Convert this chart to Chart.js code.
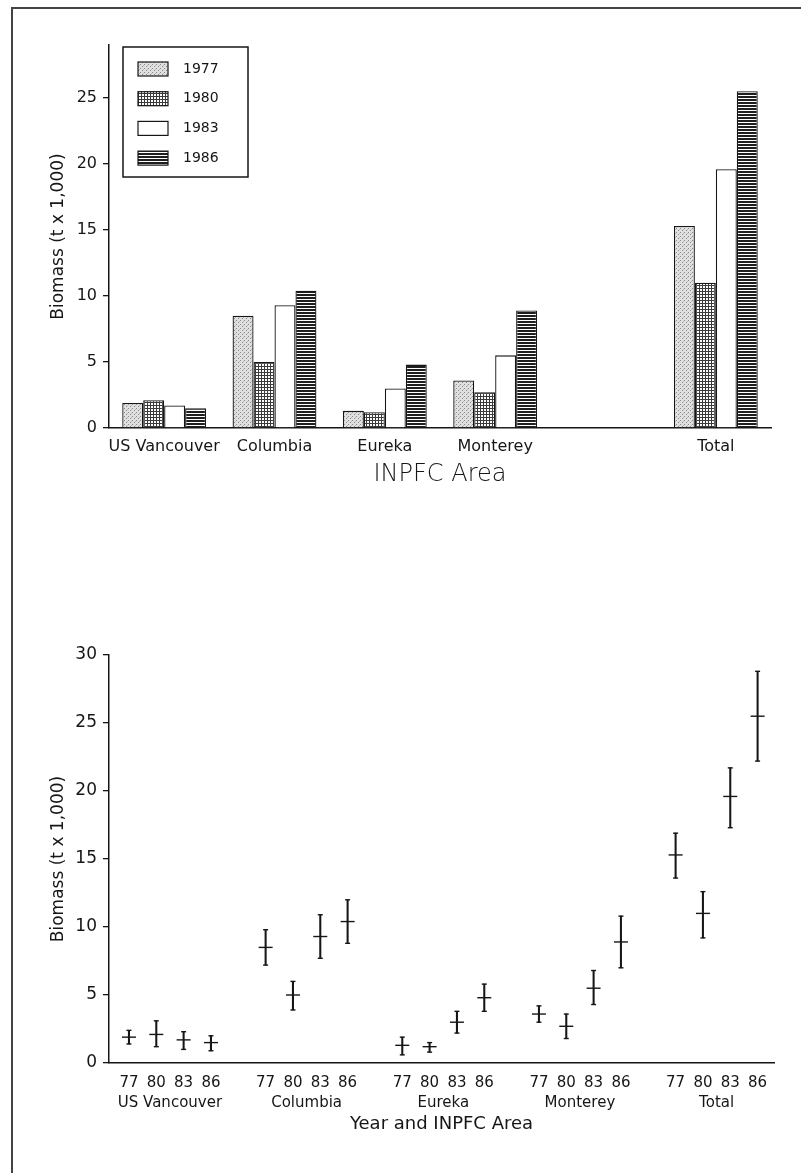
<!DOCTYPE html>
<html>
<head>
<meta charset="utf-8">
<script src="https://cdn.jsdelivr.net/npm/chart.js@4.4.0/dist/chart.umd.min.js"></script>
<style>
  html, body { margin: 0; padding: 0; background: #fff; }
  body { width: 801px; height: 1173px; position: relative; overflow: hidden; }
  #frame { position: absolute; left: 11px; top: 7px; width: 790px; height: 1166px;
           border-left: 2px solid #444; border-top: 2px solid #444; box-sizing: border-box; }
  .box { position: absolute; left: 0; width: 801px; }
  #top { top: 0; height: 493px; }
  #bottom { top: 600px; height: 539px; }
</style>
</head>
<body>
<div id="frame"></div>
<div class="box" id="top"><canvas id="barChart"></canvas></div>
<div class="box" id="bottom"><canvas id="errChart"></canvas></div>
<script>
(function() {
    'use strict';

    // areas and years
    const areas = ['US Vancouver', 'Columbia', 'Eureka', 'Monterey', 'Total'];
    const years = ['1977', '1980', '1983', '1986'];
    const yearTicks = ['77', '80', '83', '86'];

    // biomass (t x 1,000), one value per area
    const b1977 = [1.9, 8.5, 1.3, 3.6, 15.3];
    const b1980 = [2.1, 5.0, 1.2, 2.7, 11.0];
    const b1983 = [1.7, 9.3, 3.0, 5.5, 19.6];
    const b1986 = [1.5, 10.4, 4.8, 8.9, 25.5];

    // lower / upper ends of the error bars
    const lo1977 = [1.4, 7.2, 0.6, 3.0, 13.6];
    const hi1977 = [2.4, 9.8, 1.9, 4.2, 16.9];
    const lo1980 = [1.2, 3.9, 0.8, 1.8, 9.2];
    const hi1980 = [3.1, 6.0, 1.5, 3.6, 12.6];
    const lo1983 = [1.0, 7.7, 2.2, 4.3, 17.3];
    const hi1983 = [2.3, 10.9, 3.8, 6.8, 21.7];
    const lo1986 = [0.9, 8.8, 3.8, 7.0, 22.2];
    const hi1986 = [2.0, 12.0, 5.8, 10.8, 28.8];

    const FONT = '"DejaVu Sans", "Liberation Sans", sans-serif';
    const INK = '#161616';

    function makePattern(w, h, paint) {
        const c = document.createElement('canvas');
        c.width = w;
        c.height = h;
        const g = c.getContext('2d');
        paint(g);
        return g.createPattern(c, 'repeat');
    }

    // fills like the printed hatching
    const fills = [
        makePattern(4, 4, function(g) {
            g.fillStyle = '#e0e0e0'; g.fillRect(0, 0, 4, 4);
            g.fillStyle = '#8a8a8a'; g.fillRect(0, 0, 1, 1); g.fillRect(2, 2, 1, 1);
            g.fillStyle = '#bcbcbc'; g.fillRect(3, 1, 1, 1);
        }),
        makePattern(3, 3, function(g) {
            g.fillStyle = '#3a3a3a'; g.fillRect(0, 0, 3, 3);
            g.fillStyle = '#ffffff'; g.fillRect(1, 1, 2, 2);
        }),
        '#ffffff',
        makePattern(3, 3, function(g) {
            g.fillStyle = '#ffffff'; g.fillRect(0, 0, 3, 3);
            g.fillStyle = '#1e1e1e'; g.fillRect(0, 0, 3, 2);
        })
    ];

    // legend drawn as a framed box inside the plot
    const boxLegend = {
        id: 'boxLegend',
        afterDraw: function(chart) {
            const ctx = chart.ctx;
            const x0 = chart.chartArea.left + 14;
            const y0 = chart.chartArea.top + 2;
            ctx.save();
            ctx.fillStyle = '#fff';
            ctx.fillRect(x0, y0, 125, 130);
            ctx.lineWidth = 1.5;
            ctx.strokeStyle = INK;
            ctx.strokeRect(x0, y0, 125, 130);
            chart.data.datasets.forEach(function(ds, i) {
                const y = y0 + 15 + i * 29.7;
                ctx.fillStyle = ds.backgroundColor;
                ctx.fillRect(x0 + 15, y, 30, 14);
                ctx.lineWidth = 1.2;
                ctx.strokeRect(x0 + 15, y, 30, 14);
                ctx.fillStyle = INK;
                ctx.font = '14px ' + FONT;
                ctx.textBaseline = 'middle';
                ctx.textAlign = 'left';
                ctx.fillText(ds.label, x0 + 60, y + 7);
            });
            ctx.restore();
        }
    };

    // top chart has an empty slot between Monterey and Total
    const barLabels = ['US Vancouver', 'Columbia', 'Eureka', 'Monterey', '', 'Total'];
    const withGap = function(arr) { return arr.slice(0, 4).concat([null], arr.slice(4)); };
    const barSeries = [b1977, b1980, b1983, b1986];

    new Chart(document.getElementById('barChart'), {
        type: 'bar',
        data: {
            labels: barLabels,
            datasets: years.map(function(yr, i) {
                return {
                    label: yr,
                    data: withGap(barSeries[i]),
                    backgroundColor: fills[i],
                    borderColor: INK,
                    borderWidth: 1.3
                };
            })
        },
        options: {
            animation: false,
            responsive: true,
            maintainAspectRatio: false,
            layout: { padding: { left: 44, right: 30, top: 45, bottom: 0 } },
            datasets: { bar: { categoryPercentage: 0.76, barPercentage: 1.0 } },
            plugins: { legend: { display: false }, tooltip: { enabled: false } },
            scales: {
                x: {
                    grid: { display: true, drawOnChartArea: false, drawTicks: false },
                    border: { color: INK, width: 1.5 },
                    ticks: { color: INK, font: { family: FONT, size: 16 }, padding: 9, maxRotation: 0, autoSkip: false },
                    title: { display: true, text: 'INPFC Area', color: INK, font: { family: FONT, size: 24, weight: '300' } },
                    afterFit: function(s) { s.height = 65; }
                },
                y: {
                    min: 0,
                    max: 29,
                    ticks: { stepSize: 5, includeBounds: false, color: INK, font: { family: FONT, size: 16 }, padding: 6 },
                    grid: { drawOnChartArea: false, drawTicks: true, tickLength: 6, color: INK, lineWidth: 1.3 },
                    border: { color: INK, width: 1.5 },
                    title: { display: true, text: 'Biomass (t x 1,000)', color: INK, font: { family: FONT, size: 17 } },
                    afterFit: function(s) { s.width = 65; }
                }
            }
        },
        plugins: [boxLegend]
    });

    // bottom chart: one x slot per year, a blank slot between areas
    const lows = [lo1977, lo1980, lo1983, lo1986];
    const highs = [hi1977, hi1980, hi1983, hi1986];
    const positions = [];
    const means = [];
    const ranges = [];
    const lowCaps = [];
    const highCaps = [];
    areas.forEach(function(a, g) {
        barSeries.forEach(function(series, i) {
            const x = g * 5 + i;
            positions.push(x);
            means.push({ x: x, y: series[g] });
            ranges.push({ x: x, y: [lows[i][g], highs[i][g]] });
            lowCaps.push({ x: x, y: lows[i][g] });
            highCaps.push({ x: x, y: highs[i][g] });
        });
    });
    const groupCenters = areas.map(function(a, g) { return g * 5 + 1.5; });

    const pointSet = function(data, r) {
        return {
            data: data,
            pointStyle: 'line',
            pointRadius: r,
            pointHoverRadius: r,
            pointBorderColor: INK,
            pointBackgroundColor: INK,
            pointBorderWidth: 1.4,
            borderColor: INK
        };
    };

    new Chart(document.getElementById('errChart'), {
        type: 'scatter',
        data: {
            datasets: [
                { type: 'bar', data: ranges, backgroundColor: INK, borderWidth: 0, barThickness: 1.4, xAxisID: 'x', yAxisID: 'y' },
                pointSet(means, 7),
                pointSet(lowCaps, 2.5),
                pointSet(highCaps, 2.5)
            ]
        },
        options: {
            animation: false,
            responsive: true,
            maintainAspectRatio: false,
            layout: { padding: { left: 44, right: 27, top: 55, bottom: 0 } },
            plugins: { legend: { display: false }, tooltip: { enabled: false } },
            scales: {
                x: {
                    type: 'linear',
                    min: -0.73,
                    max: 23.6,
                    offset: false,
                    weight: 0,
                    afterBuildTicks: function(s) { s.ticks = positions.map(function(v) { return { value: v }; }); },
                    ticks: {
                        autoSkip: false, maxRotation: 0, padding: 11, color: INK,
                        font: { family: FONT, size: 15 },
                        callback: function(v, i) { return yearTicks[i % 4]; }
                    },
                    grid: { drawOnChartArea: false, drawTicks: false },
                    border: { color: INK, width: 1.5 },
                    afterFit: function(s) { s.height = 31; }
                },
                x2: {
                    type: 'linear',
                    position: 'bottom',
                    min: -0.73,
                    max: 23.6,
                    offset: false,
                    weight: 1,
                    afterBuildTicks: function(s) { s.ticks = groupCenters.map(function(v) { return { value: v }; }); },
                    ticks: {
                        autoSkip: false, maxRotation: 0, padding: 0, color: INK,
                        font: { family: FONT, size: 15 },
                        callback: function(v, i) { return areas[i]; }
                    },
                    grid: { display: false, drawTicks: false },
                    border: { display: false },
                    title: { display: true, text: 'Year and INPFC Area', color: INK, font: { family: FONT, size: 18 } },
                    afterFit: function(s) { s.height = 45; }
                },
                y: {
                    min: 0,
                    max: 30,
                    ticks: { stepSize: 5, color: INK, font: { family: FONT, size: 17 }, padding: 6 },
                    grid: { drawOnChartArea: false, drawTicks: true, tickLength: 6, color: INK, lineWidth: 1.3 },
                    border: { color: INK, width: 1.5 },
                    title: { display: true, text: 'Biomass (t x 1,000)', color: INK, font: { family: FONT, size: 17 } },
                    afterFit: function(s) { s.width = 65; }
                }
            }
        }
    });
})();
</script>
</body>
</html>
